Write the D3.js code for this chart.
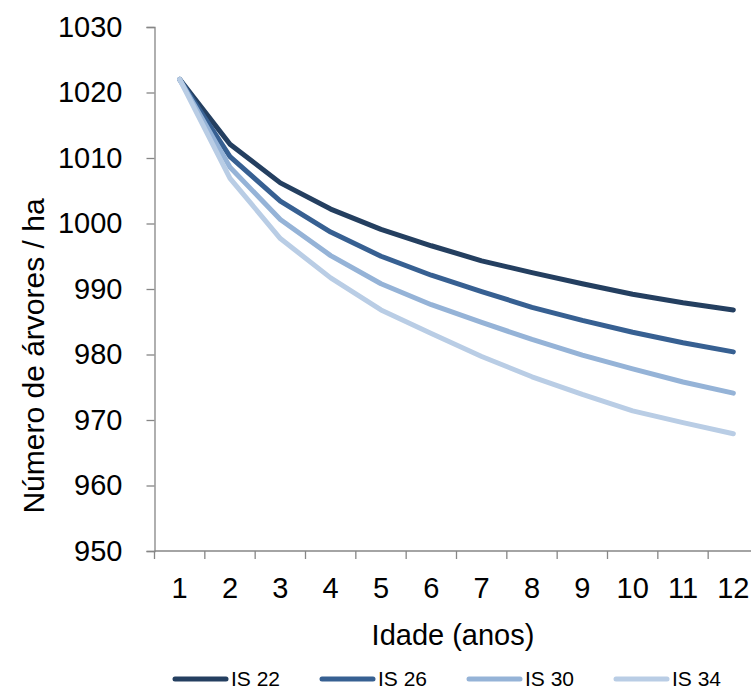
<!DOCTYPE html>
<html>
<head>
<meta charset="utf-8">
<script src="https://cdn.jsdelivr.net/npm/d3@7"></script>
<style>
  html, body { margin: 0; padding: 0; background: #fff; }
  svg { display: block; }
</style>
</head>
<body>
<svg id="chart" width="751" height="691"></svg>
<script>
// Idade (anos)
const ages = [1, 2, 3, 4, 5, 6, 7, 8, 9, 10, 11, 12];
const yTicks = [950, 960, 970, 980, 990, 1000, 1010, 1020, 1030];

// Número de árvores por hectare, por índice de sítio
const is22 = [1022, 1012.1, 1006.2, 1002.2, 999.1, 996.6, 994.3, 992.5, 990.8, 989.2, 987.9, 986.8];
const is26 = [1022, 1010.2, 1003.4, 998.7, 995.0, 992.1, 989.6, 987.2, 985.2, 983.4, 981.8, 980.4];
const is30 = [1022, 1008.6, 1000.6, 995.1, 990.8, 987.6, 984.9, 982.3, 979.9, 977.8, 975.8, 974.1];
const is34 = [1022, 1006.9, 997.7, 991.7, 986.8, 983.2, 979.7, 976.6, 973.9, 971.4, 969.6, 967.9];

const seriesNames = ["IS 22", "IS 26", "IS 30", "IS 34"];
const seriesValues = [is22, is26, is30, is34];
const colors = ["#243f60", "#376092", "#95b3d7", "#b9cde5"];

const svg = d3.select("#chart");
const plotLeft = 154.5, plotRight = 758.5, plotTop = 27, plotBottom = 551;
const axisColor = "#868686";
const font = "'Liberation Sans', Arial, sans-serif";
const fontSize = 29;

const x = d3.scalePoint().domain(ages).range([plotLeft, plotRight]).padding(0.5);
const y = d3.scaleLinear().domain([950, 1030]).range([plotBottom, plotTop]);
const step = x.step();

// Eixo Y
const gy = svg.append("g").attr("transform", `translate(${plotLeft},0)`)
  .call(d3.axisLeft(y).tickValues(yTicks).tickSize(8).tickPadding(24).tickFormat(d3.format("d")));
gy.select(".domain").attr("stroke", axisColor).attr("stroke-width", 1.3);
gy.selectAll(".tick line").attr("stroke", axisColor).attr("stroke-width", 1.3);
gy.selectAll(".tick text").attr("font-family", font).attr("font-size", fontSize).attr("fill", "#000");

// Eixo X (marcas entre categorias)
const gx = svg.append("g").attr("transform", `translate(0,${plotBottom})`);
gx.append("line").attr("x1", plotLeft).attr("x2", plotRight).attr("y1", 0).attr("y2", 0)
  .attr("stroke", axisColor).attr("stroke-width", 1.3);
const boundaries = ages.map(a => x(a) - step / 2).concat([x(ages[ages.length - 1]) + step / 2]);
gx.selectAll("line.tk").data(boundaries).join("line").attr("class", "tk")
  .attr("x1", d => d).attr("x2", d => d).attr("y1", 0).attr("y2", 8)
  .attr("stroke", axisColor).attr("stroke-width", 1.3);
gx.selectAll("text").data(ages).join("text")
  .attr("x", d => x(d)).attr("y", 47).attr("text-anchor", "middle")
  .attr("font-family", font).attr("font-size", fontSize).attr("fill", "#000")
  .text(d => d);

// Títulos dos eixos
svg.append("text")
  .attr("transform", `translate(44,356) rotate(-90)`)
  .attr("text-anchor", "middle").attr("font-family", font).attr("font-size", 30).attr("fill", "#000")
  .text("Número de árvores / ha");
svg.append("text")
  .attr("x", 453).attr("y", 645).attr("text-anchor", "middle")
  .attr("font-family", font).attr("font-size", fontSize).attr("fill", "#000")
  .text("Idade (anos)");

// Linhas
const line = d3.line().x((d, i) => x(ages[i])).y(d => y(d));
svg.append("g").selectAll("path").data(seriesValues).join("path")
  .attr("d", d => line(d))
  .attr("fill", "none")
  .attr("stroke", (d, i) => colors[i])
  .attr("stroke-width", 5)
  .attr("stroke-linejoin", "round")
  .attr("stroke-linecap", "round");

// Legenda
const legendX = [175, 322, 469, 616];
const lg = svg.append("g").selectAll("g").data(seriesNames).join("g")
  .attr("transform", (d, i) => `translate(${legendX[i]},679)`);
lg.append("line").attr("x1", 0).attr("x2", 51).attr("y1", 0).attr("y2", 0)
  .attr("stroke", (d, i) => colors[i]).attr("stroke-width", 5).attr("stroke-linecap", "round");
lg.append("text").attr("x", 56).attr("y", 7)
  .attr("font-family", font)
  .attr("font-size", 21).attr("fill", "#000")
  .text(d => d);
</script>
</body>
</html>
